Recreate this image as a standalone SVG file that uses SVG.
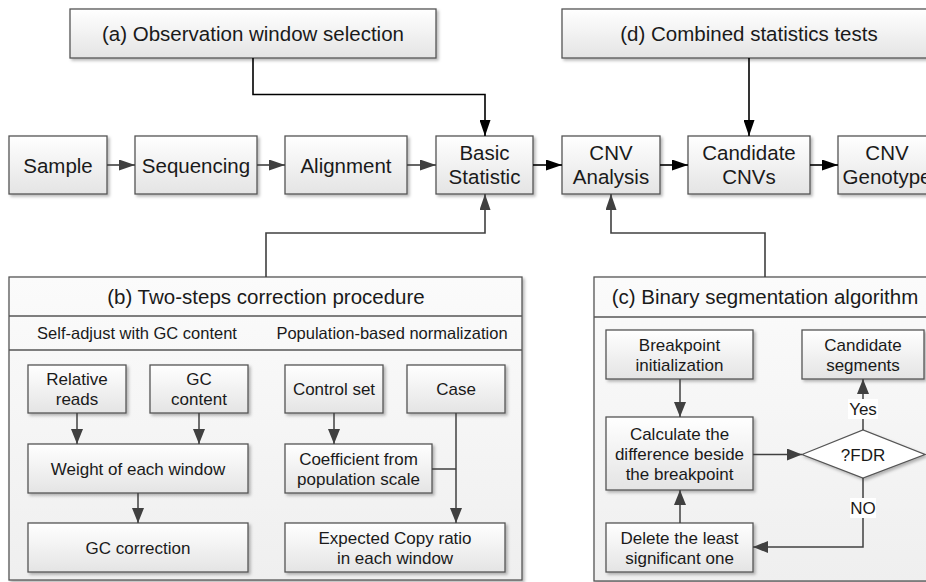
<svg xmlns="http://www.w3.org/2000/svg" width="926" height="582" viewBox="0 0 926 582">
<defs>
<linearGradient id="g" x1="0" y1="0" x2="0" y2="1"><stop offset="0" stop-color="#ffffff"/><stop offset="1" stop-color="#e4e4e4"/></linearGradient>
<linearGradient id="gp" x1="0" y1="0" x2="0" y2="1"><stop offset="0" stop-color="#fbfbfb"/><stop offset="1" stop-color="#efefef"/></linearGradient>
<filter id="sh" x="-10%" y="-10%" width="130%" height="140%"><feDropShadow dx="2" dy="2" stdDeviation="1.4" flood-color="#000" flood-opacity="0.28"/></filter>
<marker id="ab" viewBox="0 0 16 11" refX="16" refY="5.5" markerWidth="16" markerHeight="11" markerUnits="userSpaceOnUse" orient="auto"><path d="M0,0 L16,5.5 L0,11 z" fill="#000"/></marker>
<marker id="ag" viewBox="0 0 16 11" refX="16" refY="5.5" markerWidth="16" markerHeight="11" markerUnits="userSpaceOnUse" orient="auto"><path d="M0,0 L16,5.5 L0,11 z" fill="#404040"/></marker>
<marker id="as" viewBox="0 0 15 12" refX="15" refY="6" markerWidth="15" markerHeight="12" markerUnits="userSpaceOnUse" orient="auto"><path d="M0,0 L15,6 L0,12 z" fill="#404040"/></marker>
</defs>
<style>
.box{fill:url(#g);stroke:#555;stroke-width:1.3;filter:url(#sh)}
.panel{fill:url(#gp);stroke:#555;stroke-width:1.3;filter:url(#sh)}
.div{stroke:#555;stroke-width:1.3;fill:none}
text{font-family:"Liberation Sans",Arial,sans-serif;fill:#1a1a1a;text-anchor:middle}
.t{font-size:20.5px}
.s{font-size:17px}
.h{font-size:16.5px}
.cb{stroke:#000;stroke-width:1.6;fill:none;marker-end:url(#ab)}
.cg{stroke:#404040;stroke-width:1.6;fill:none;marker-end:url(#ag)}
.ci{stroke:#404040;stroke-width:1.5;fill:none;marker-end:url(#as)}
.cn{stroke:#404040;stroke-width:1.5;fill:none}
.lbl{fill:#fff;stroke:none}
</style>

<g id="panel-b">
<rect class="panel" x="9" y="277" width="513" height="303"/>
<path class="div" d="M9,316 H522 M9,350 H522"/>
<text class="t" x="266" y="304">(b) Two-steps correction procedure</text>
<text class="h" x="137" y="339">Self-adjust with GC content</text>
<text class="h" x="392" y="339">Population-based normalization</text>
</g>
<g id="panel-c">
<rect class="panel" x="594" y="277" width="342" height="304"/>
<path class="div" d="M594,317 H936"/>
<text class="t" x="765" y="304">(c) Binary segmentation algorithm</text>
</g>

<g id="a"><rect class="box" x="70" y="9" width="366" height="49"/><text class="t" x="253" y="40.5">(a) Observation window selection</text></g>
<g id="d"><rect class="box" x="562" y="9" width="374" height="49"/><text class="t" x="749" y="40.5">(d) Combined statistics tests</text></g>

<g id="sample"><rect class="box" x="9" y="136" width="98" height="58"/><text class="t" x="58" y="172.5">Sample</text></g>
<g id="sequencing"><rect class="box" x="135" y="136" width="122" height="58"/><text class="t" x="196" y="172.5">Sequencing</text></g>
<g id="alignment"><rect class="box" x="285" y="136" width="122" height="58"/><text class="t" x="346" y="172.5">Alignment</text></g>
<g id="basic"><rect class="box" x="436" y="136" width="97" height="58"/><text class="t" x="484.5" y="160">Basic</text><text class="t" x="484.5" y="184">Statistic</text></g>
<g id="cnv-analysis"><rect class="box" x="562" y="136" width="98" height="58"/><text class="t" x="611" y="160">CNV</text><text class="t" x="611" y="184">Analysis</text></g>
<g id="candidate-cnvs"><rect class="box" x="688" y="136" width="122" height="58"/><text class="t" x="749" y="160">Candidate</text><text class="t" x="749" y="184">CNVs</text></g>
<g id="cnv-genotype"><rect class="box" x="838" y="136" width="98" height="58"/><text class="t" x="887" y="160">CNV</text><text class="t" x="887" y="184">Genotype</text></g>

<g id="relative-reads"><rect class="box" x="28" y="365" width="98" height="48"/><text class="s" x="77" y="385">Relative</text><text class="s" x="77" y="405">reads</text></g>
<g id="gc-content"><rect class="box" x="150" y="365" width="98" height="48"/><text class="s" x="199" y="385">GC</text><text class="s" x="199" y="405">content</text></g>
<g id="weight"><rect class="box" x="28" y="444" width="220" height="49"/><text class="s" x="138" y="474.5">Weight of each window</text></g>
<g id="gc-correction"><rect class="box" x="28" y="523" width="220" height="49"/><text class="s" x="138" y="553.5">GC correction</text></g>
<g id="control-set"><rect class="box" x="285" y="365" width="98" height="48"/><text class="s" x="334" y="395">Control set</text></g>
<g id="case"><rect class="box" x="407" y="365" width="98" height="48"/><text class="s" x="456" y="395">Case</text></g>
<g id="coefficient"><rect class="box" x="285" y="444" width="147" height="49"/><text class="s" x="358.5" y="464.5">Coefficient from</text><text class="s" x="358.5" y="484.5">population scale</text></g>
<g id="expected"><rect class="box" x="285" y="523" width="220" height="49"/><text class="s" x="395" y="543.5">Expected Copy ratio</text><text class="s" x="395" y="563.5">in each window</text></g>

<g id="breakpoint-init"><rect class="box" x="606" y="330" width="147" height="49"/><text class="s" x="679.5" y="350.5">Breakpoint</text><text class="s" x="679.5" y="370.5">initialization</text></g>
<g id="candidate-segments"><rect class="box" x="802" y="330" width="122" height="49"/><text class="s" x="863" y="350.5">Candidate</text><text class="s" x="863" y="370.5">segments</text></g>
<g id="calculate"><rect class="box" x="606" y="417" width="147" height="73"/><text class="s" x="679.5" y="439.5">Calculate the</text><text class="s" x="679.5" y="459.5">difference beside</text><text class="s" x="679.5" y="479.5">the breakpoint</text></g>
<g id="fdr"><path class="box" d="M802,454.5 L863,430 L925,454.5 L863,478 z" style="fill:#fff"/><text class="s" x="863" y="460.5">?FDR</text></g>
<g id="delete"><rect class="box" x="606" y="523" width="147" height="49"/><text class="s" x="679.5" y="543.5">Delete the least</text><text class="s" x="679.5" y="563.5">significant one</text></g>

<g id="connectors">
<path class="cb" d="M253,58 V94.5 H485 V136"/>
<path class="cb" d="M749,58 V136"/>
<path class="cg" d="M107,165 H135"/>
<path class="cg" d="M257,165 H285"/>
<path class="cg" d="M407,165 H436"/>
<path class="cb" d="M533,165 H562"/>
<path class="cb" d="M660,165 H688"/>
<path class="cb" d="M810,165 H838"/>
<path class="cg" d="M266,277 V233 H485 V194"/>
<path class="cg" d="M765,277 V233 H611 V194"/>
<path class="ci" d="M77,413 V444"/>
<path class="ci" d="M199,413 V444"/>
<path class="ci" d="M138,493 V523"/>
<path class="ci" d="M334,413 V444"/>
<path class="ci" d="M456,413 V523"/>
<path class="cn" d="M432,469 H456"/>
<path class="ci" d="M680,379 V417"/>
<path class="ci" d="M753,454.5 H802"/>
<path class="ci" d="M863,430 V379"/>
<path class="ci" d="M863,478 V547 H753"/>
<path class="ci" d="M680,523 V490"/>
<rect class="lbl" x="848" y="399" width="30" height="20"/>
<text class="s" x="863" y="415">Yes</text>
<rect class="lbl" x="850" y="498" width="26" height="20"/>
<text class="s" x="863" y="514">NO</text>
</g>
</svg>
